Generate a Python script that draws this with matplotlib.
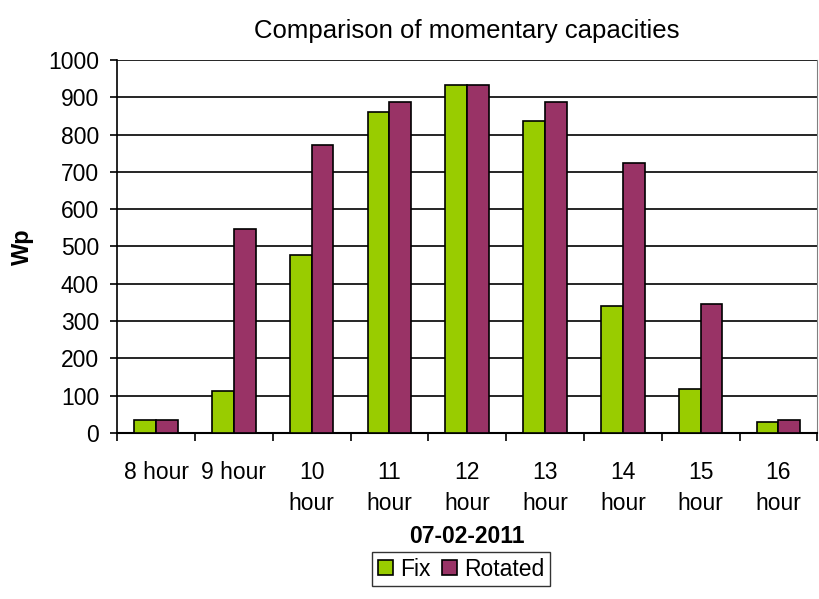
import numpy as np
import matplotlib.pyplot as plt

plt.rcParams['font.family'] = ['Liberation Sans', 'DejaVu Sans']

hours = ['8 hour', '9 hour', '10\nhour', '11\nhour', '12\nhour', '13\nhour', '14\nhour', '15\nhour', '16\nhour']
fix = [35, 113, 477, 860, 933, 836, 341, 118, 31]
rotated = [35, 548, 772, 887, 933, 887, 724, 347, 36]

fig = plt.figure(figsize=(8.19, 5.99), dpi=100)
ax = fig.add_axes([0.143, 0.277, 0.855, 0.623])

x = np.arange(len(hours))
w = 0.28
ax.bar(x - w/2, fix, w, color='#99CC00', edgecolor='black', linewidth=1.2, label='Fix', zorder=3)
ax.bar(x + w/2, rotated, w, color='#993366', edgecolor='black', linewidth=1.2, label='Rotated', zorder=3)

ax.set_xlim(-0.5, len(hours) - 0.5)
ax.set_ylim(0, 1000)
ax.set_yticks(np.arange(0, 1001, 100))
ax.yaxis.grid(True, color='black', linewidth=1.2, zorder=0)
ax.tick_params(axis='y', labelsize=16.5, direction='out', length=5, width=1.2, pad=8)

ax.set_xticks(x)
ax.set_xticklabels(hours, fontsize=16.5, linespacing=1.45)
ax.tick_params(axis='x', which='major', length=0, pad=20)
ax.set_xticks(np.arange(-0.5, len(hours)), minor=True)
ax.tick_params(axis='x', which='minor', length=6, width=1.2, direction='out')

ax.spines['top'].set_visible(False)
ax.spines['right'].set_color('#808080')
ax.spines['left'].set_linewidth(1.2)
ax.spines['bottom'].set_linewidth(1.5)

ax.set_title('Comparison of momentary capacities', fontsize=18.5, pad=16)
ax.set_ylabel('Wp', fontsize=17, fontweight='bold', labelpad=10)
ax.set_xlabel('07-02-2011', fontsize=16.5, fontweight='bold', labelpad=7)

leg = fig.legend(loc='center', bbox_to_anchor=(461/819, 1 - 569/599), ncol=2, frameon=True,
                 fancybox=False, edgecolor='black', fontsize=16.5, handlelength=0.65,
                 handleheight=0.65, handletextpad=0.3, columnspacing=0.5, borderpad=0.25)
leg.get_frame().set_linewidth(1.0)

fig.savefig('out.png', dpi=100)
